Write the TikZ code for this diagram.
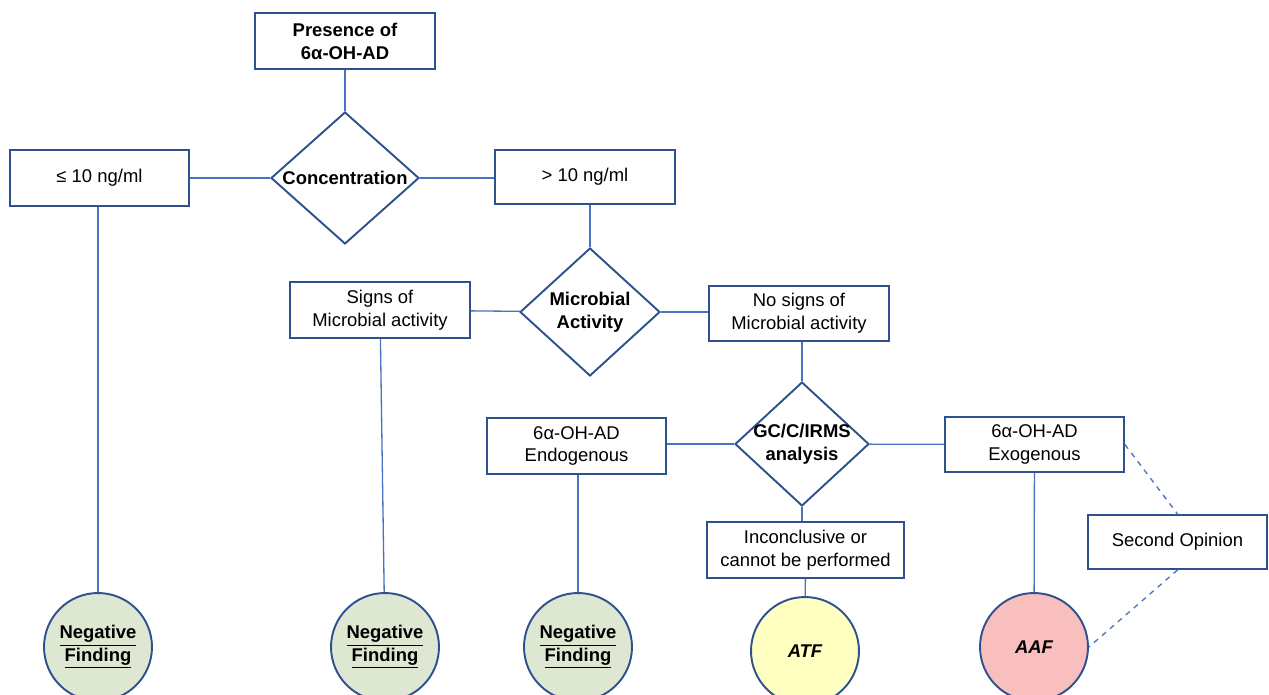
\documentclass[tikz,border=0pt]{standalone}
\usepackage{fontspec}
\setmainfont{Liberation Sans}
\usetikzlibrary{shapes.geometric}
\definecolor{boxblue}{HTML}{2F528F}
\definecolor{lineblue}{HTML}{4A72C0}
\definecolor{negfill}{HTML}{DDE7D1}
\definecolor{atffill}{HTML}{FFFFC2}
\definecolor{aaffill}{HTML}{F9BEBE}
\tikzset{
  box/.style={rectangle,draw=boxblue,line width=1.1pt,align=center,
    minimum width=3.6cm,minimum height=1.12cm,inner sep=1pt,
    font=\fontsize{10.5}{13}\selectfont},
  decision/.style={diamond,draw=boxblue,line width=1.1pt,align=center,
    inner sep=0pt,aspect=1.1,font=\fontsize{10.5}{13}\selectfont\bfseries},
  finding/.style={circle,draw=boxblue,line width=1.1pt,align=center,
    minimum size=2.16cm,inner sep=0pt,font=\fontsize{10.5}{13}\selectfont\bfseries},
  link/.style={draw=lineblue,line width=0.75pt},
}
\begin{document}
\begin{tikzpicture}[x=0.02cm,y=-0.02cm]
  \useasboundingbox (0,0) rectangle (1269,694);
  \node[box,font=\fontsize{10.5}{13}\selectfont\bfseries] (presence) at (345,41) {Presence of\\6α-OH-AD};
  \node[decision,minimum width=2.96cm,minimum height=2.64cm] (conc) at (345,178) {Concentration};
  \node[box,minimum width=3.58cm] (low) at (99.5,178) {≤ 10 ng/ml};
  \node[box,minimum height=1.08cm] (high) at (585,177) {> 10 ng/ml};
  \node[decision,minimum width=2.8cm,minimum height=2.56cm] (micro) at (590,312) {Microbial\\Activity};
  \node[box] (signs) at (380,310) {Signs of\\Microbial activity};
  \node[box,minimum height=1.1cm] (nosigns) at (799,313.5) {No signs of\\Microbial activity};
  \node[decision,inner sep=-2.5pt,minimum width=2.68cm,minimum height=2.48cm] (irms) at (802,444) {GC/C/IRMS\\analysis};
  \node[box,minimum width=3.58cm] (endo) at (576.5,446) {6α-OH-AD\\Endogenous};
  \node[box,minimum width=3.58cm,minimum height=1.1cm] (exo) at (1034.5,444.5) {6α-OH-AD\\Exogenous};
  \node[box,minimum width=3.94cm] (inconcl) at (805.5,550) {Inconclusive or\\cannot be performed};
  \node[box,minimum width=3.58cm,minimum height=1.08cm] (second) at (1177.5,542) {Second Opinion};
  \node[finding,fill=negfill] (neg1) at (98,647) {\underline{Negative}\\\underline{Finding}};
  \node[finding,fill=negfill] (neg2) at (385,647) {\underline{Negative}\\\underline{Finding}};
  \node[finding,fill=negfill] (neg3) at (578,647) {\underline{Negative}\\\underline{Finding}};
  \node[finding,fill=atffill] (atf) at (805,651) {\itshape ATF};
  \node[finding,fill=aaffill] (aaf) at (1034,647) {\itshape AAF};
  \path[link]
    (presence) edge (conc)
    (conc) edge (low)
    (conc.east) edge (conc.east -| high.west)
    (low.south -| neg1) edge (neg1)
    (high.south -| micro) edge (micro)
    (micro) edge (signs)
    (micro.east) edge (micro.east -| nosigns.west)
    (signs) edge (neg2)
    (nosigns.south -| irms) edge (irms)
    (irms.west) edge (irms.west -| endo.east)
    (irms) edge (exo)
    (endo.south -| neg3) edge (neg3)
    (irms.south) edge (inconcl.north -| irms.south)
    (inconcl) edge (atf)
    (exo) edge (aaf);
  \path[link,dashed]
    (exo.east) edge (second.north)
    (second.south) edge (aaf.east);
\end{tikzpicture}
\end{document}
